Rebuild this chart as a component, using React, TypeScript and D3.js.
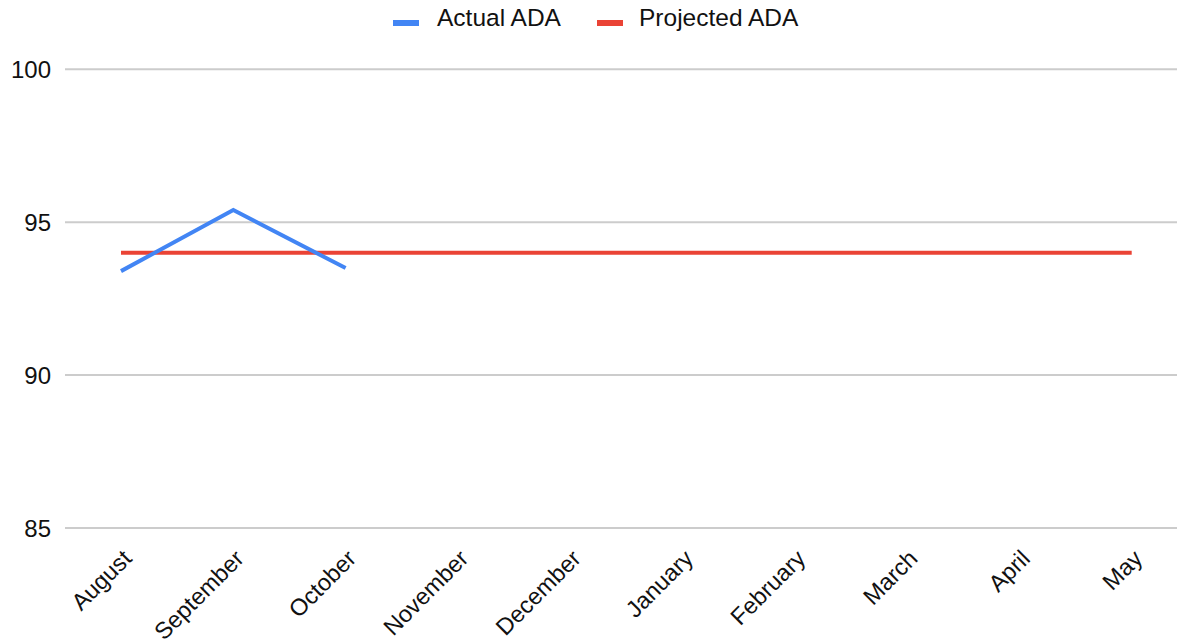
import React from "react";
import * as d3 from "d3";

const months = ["August", "September", "October", "November", "December", "January", "February", "March", "April", "May"];
const actualADA = [93.4, 95.4, 93.5];
const projectedADA = [94, 94, 94, 94, 94, 94, 94, 94, 94, 94];
const yTicks = [85, 90, 95, 100];
const seriesNames = ["Actual ADA", "Projected ADA"];
const seriesColors = ["#4285F4", "#EA4335"];

const W = 1177;
const H = 640;
const FONT = "Arial, 'Liberation Sans', sans-serif";

export default function App() {
  const x = d3.scalePoint<string>().domain(months).range([121, 1131.7]);
  const y = d3.scaleLinear().domain([85, 100]).range([528, 69.3]);
  const line = d3
    .line<number>()
    .x((_, i) => x(months[i]) as number)
    .y((d) => y(d));

  const legendX = [393, 597];
  const legendTextX = [437, 639];

  return (
    <svg width={W} height={H} style={{ position: "absolute", left: 0, top: 0, background: "#fff" }} fontFamily={FONT}>
      <rect x={0} y={0} width={W} height={H} fill="#fff" />
      {yTicks.map((t) => (
        <g key={t}>
          <line x1={65} x2={W} y1={y(t)} y2={y(t)} stroke="#cccccc" strokeWidth={2} />
          <text x={51} y={y(t)} dy="0.36em" textAnchor="end" fontSize={24} fill="#111">
            {t}
          </text>
        </g>
      ))}
      {months.map((m) => (
        <text
          key={m}
          transform={`translate(${(x(m) as number) + 12},560) rotate(-45)`}
          textAnchor="end"
          fontSize={23.5}
          fill="#111"
        >
          {m}
        </text>
      ))}
      <path d={line(projectedADA) || ""} fill="none" stroke={seriesColors[1]} strokeWidth={4} />
      <path d={line(actualADA) || ""} fill="none" stroke={seriesColors[0]} strokeWidth={4} strokeLinejoin="miter" />
      {seriesNames.map((s, i) => (
        <g key={s}>
          <rect x={legendX[i]} y={20} width={26} height={6} fill={seriesColors[i]} />
          <text x={legendTextX[i]} y={26} fontSize={24.5} fill="#111">
            {s}
          </text>
        </g>
      ))}
    </svg>
  );
}
